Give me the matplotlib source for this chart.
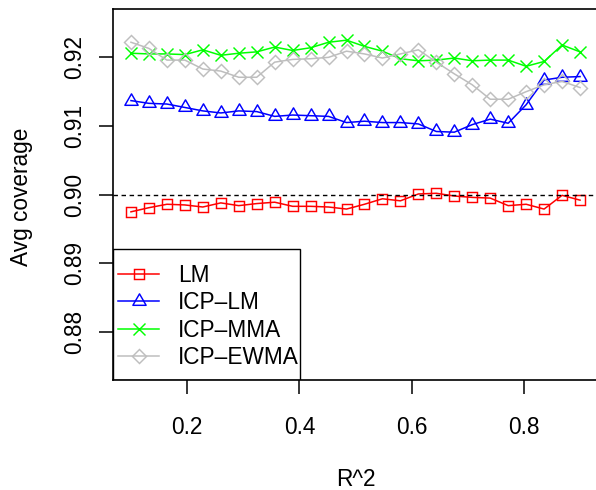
import matplotlib
matplotlib.use("Agg")
import matplotlib.pyplot as plt
from matplotlib.path import Path
from matplotlib.patches import Rectangle

plt.rcParams['font.family'] = ['Liberation Sans', 'DejaVu Sans']

# ------------------------------
# dados
# ------------------------------
r2 = [0.100, 0.132, 0.164, 0.196, 0.228, 0.260, 0.292, 0.324, 0.356, 0.388,
      0.420, 0.452, 0.484, 0.516, 0.548, 0.580, 0.612, 0.644, 0.676, 0.708,
      0.740, 0.772, 0.804, 0.836, 0.868, 0.900]

lm = [0.8975, 0.8981, 0.8986, 0.8985, 0.8982, 0.8988, 0.8984, 0.8987, 0.8989, 0.8983,
      0.8983, 0.8982, 0.8979, 0.8986, 0.8994, 0.8991, 0.9001, 0.9002, 0.8998, 0.8996,
      0.8995, 0.8984, 0.8986, 0.8979, 0.8999, 0.8992]

icp_lm = [0.9137, 0.9133, 0.9132, 0.9127, 0.9122, 0.9119, 0.9122, 0.9121, 0.9114, 0.9116,
          0.9115, 0.9114, 0.9105, 0.9107, 0.9105, 0.9105, 0.9103, 0.9092, 0.9091, 0.9102,
          0.9110, 0.9104, 0.9131, 0.9167, 0.9171, 0.9172]

icp_mma = [0.9206, 0.9205, 0.9205, 0.9204, 0.9211, 0.9203, 0.9206, 0.9208, 0.9215, 0.9210,
           0.9214, 0.9222, 0.9225, 0.9216, 0.9209, 0.9198, 0.9195, 0.9196, 0.9199, 0.9195,
           0.9196, 0.9196, 0.9187, 0.9194, 0.9218, 0.9208]

icp_ewma = [0.9222, 0.9213, 0.9196, 0.9196, 0.9183, 0.9180, 0.9171, 0.9171, 0.9193, 0.9197,
            0.9198, 0.9200, 0.9209, 0.9205, 0.9199, 0.9205, 0.9211, 0.9193, 0.9176, 0.9160,
            0.9139, 0.9139, 0.9150, 0.9160, 0.9165, 0.9156]

labels = ["LM", "ICP\u2013LM", "ICP\u2013MMA", "ICP\u2013EWMA"]
target = 0.90

x_ticks = [0.2, 0.4, 0.6, 0.8]
y_ticks = [0.88, 0.89, 0.90, 0.91, 0.92]

fs = 16.3

# triangulo no estilo do R (pch = 2)
tri = Path([(0, 1.555), (1.347, -0.778), (-1.347, -0.778), (0, 1.555)],
           [Path.MOVETO, Path.LINETO, Path.LINETO, Path.CLOSEPOLY])

series = [
    (lm, 'red', 's', 6.6),
    (icp_lm, 'blue', tri, 11),
    (icp_mma, '#00FF00', 'x', 8),
    (icp_ewma, '#BEBEBE', 'D', 7),
]

# ------------------------------
# PLOT
# ------------------------------
fig = plt.figure(figsize=(5.96, 4.9), dpi=100)
ax = fig.add_axes([113 / 596, 110 / 490, 485 / 596, 370.7 / 490])

for (vals, cor, mk, ms), lab in zip(series, labels):
    ax.plot(r2, vals, color=cor, lw=1.1, marker=mk, markersize=ms,
            markerfacecolor='none', markeredgecolor=cor, markeredgewidth=1.05,
            label=lab)

ax.axhline(target, color='black', lw=1.0, dashes=(3.2, 2.6))

ax.set_xlim(0.068, 0.932)
ax.set_ylim(0.873, 0.927)
ax.set_xticks(x_ticks)
ax.set_xticklabels([f"{v:.1f}" for v in x_ticks])
ax.set_yticks(y_ticks)
ax.set_yticklabels([f"{v:.2f}" for v in y_ticks], rotation=90, va='center')

for s in ax.spines.values():
    s.set_linewidth(1.2)
ax.tick_params(axis='both', length=10, width=1.1, labelsize=fs, direction='out')
ax.tick_params(axis='x', pad=16)
ax.tick_params(axis='y', pad=9)

ax.set_xlabel("R^2", fontsize=fs)
ax.set_ylabel("Avg coverage", fontsize=fs)
ax.xaxis.set_label_coords(0.5, -0.2366)
ax.yaxis.set_label_coords(-0.164, 0.495)

# legenda com caixa no estilo do R
ax.add_patch(Rectangle((0, 0), 0.3856, 0.3526, transform=ax.transAxes,
                       fill=False, ec='black', lw=1.0, zorder=5))
ax.legend(loc='center left', bbox_to_anchor=(0.011, 0.171), frameon=False,
          fontsize=fs, borderpad=0, borderaxespad=0, handlelength=1.8,
          handletextpad=0.82, labelspacing=0.2, numpoints=1)

fig.savefig("out.png", dpi=100)
